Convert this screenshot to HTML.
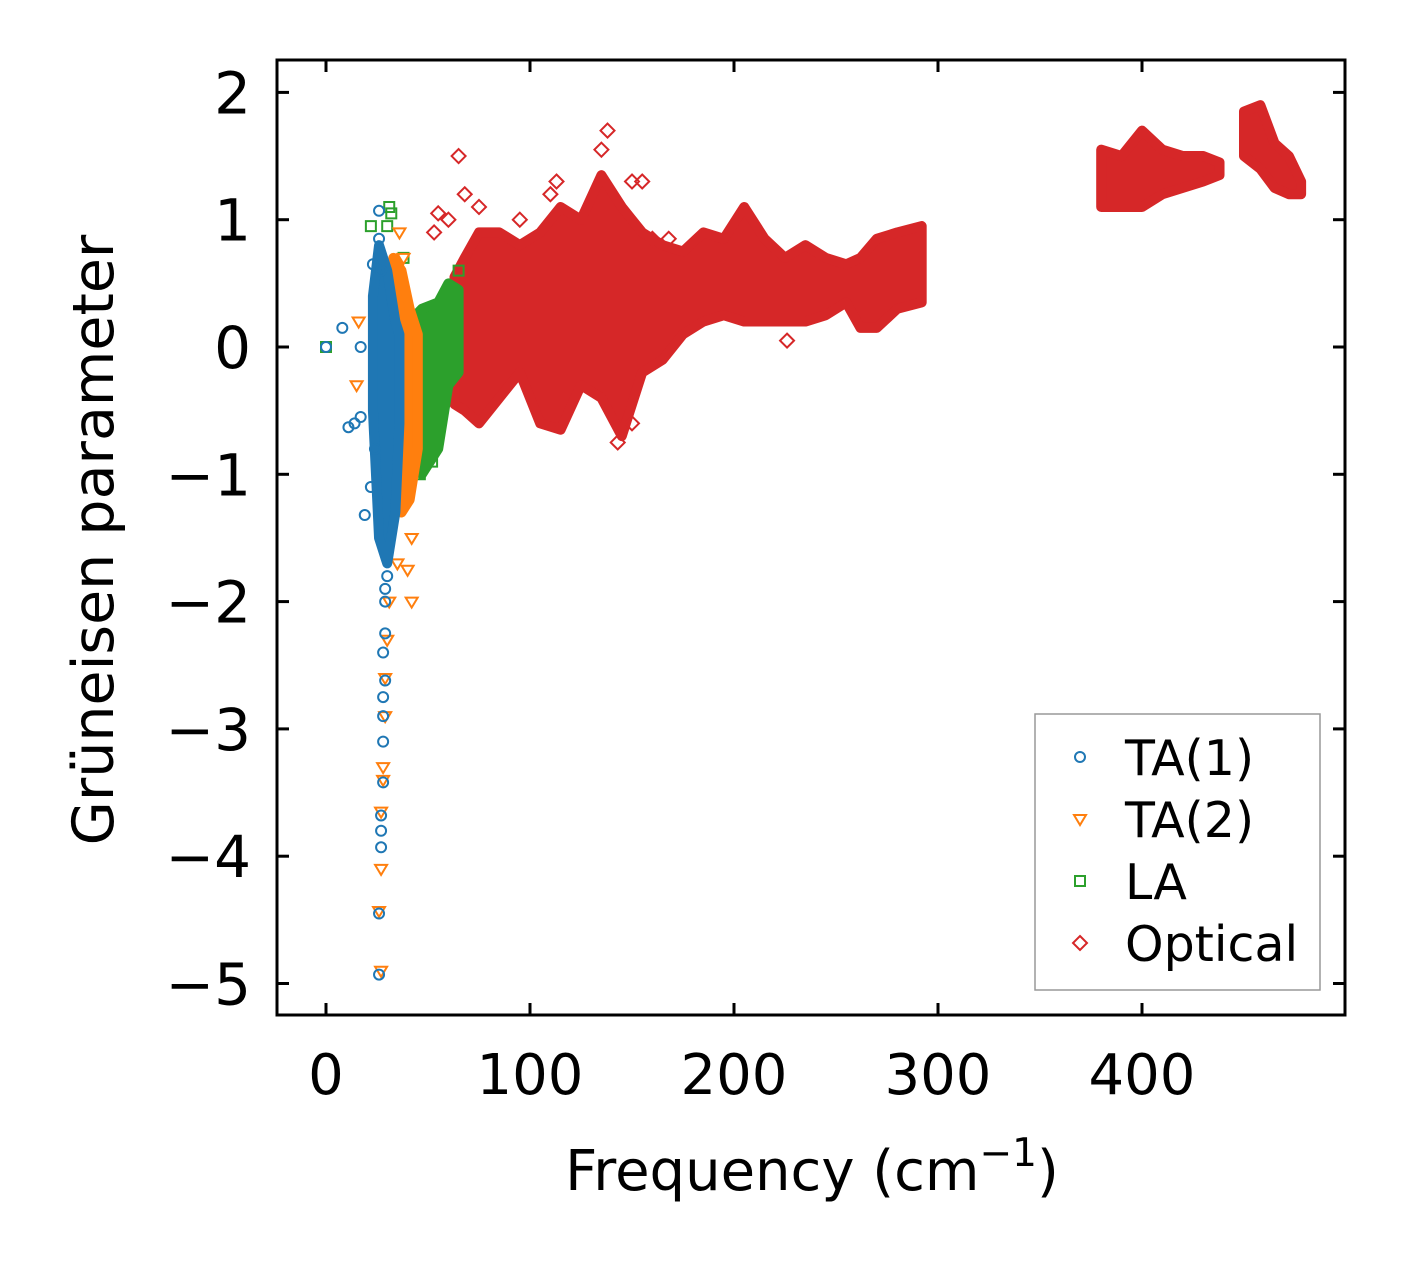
<!DOCTYPE html>
<html><head><meta charset="utf-8"><style>
html,body{margin:0;padding:0;background:#fff;}
svg{display:block;font-family:"DejaVu Sans","Liberation Sans",sans-serif;}
</style></head><body>
<svg id="chart" width="1406" height="1264" viewBox="0 0 1406 1264" xmlns="http://www.w3.org/2000/svg">
<rect width="1406" height="1264" fill="#fff"/>
<g id="plot"></g>
<rect x="277" y="60" width="1068" height="955" fill="none" stroke="#000" stroke-width="3"/>
<g id="ticks"></g>
<text x="812" y="1190" font-size="56" text-anchor="middle">Frequency (cm<tspan dy="-24" font-size="39">−1</tspan><tspan dy="24">)</tspan></text>
<text transform="translate(113,540) rotate(-90)" font-size="57" text-anchor="middle">Grüneisen parameter</text>
<g>
<rect x="1035" y="714" width="285" height="276" fill="#fff" stroke="#999" stroke-width="1.5"/>
<circle cx="1080" cy="757" r="5" fill="none" stroke="#1f77b4" stroke-width="2"/>
<text x="1125" y="775" font-size="49">TA(1)</text>
<path d="M1074,815 L1086,815 L1080,825 Z" fill="none" stroke="#ff7f0e" stroke-width="2"/>
<text x="1125" y="837" font-size="49">TA(2)</text>
<rect x="1075" y="876" width="10" height="10" fill="none" stroke="#2ca02c" stroke-width="2"/>
<text x="1125" y="899" font-size="49">LA</text>
<path d="M1080,936 L1087,943 L1080,950 L1073,943 Z" fill="none" stroke="#d62728" stroke-width="2"/>
<text x="1125" y="961" font-size="49">Optical</text>
</g>
</svg>
<script>
// axis data
const xTicks = [0, 100, 200, 300, 400];
const yTicks = [-5, -4, -3, -2, -1, 0, 1, 2];
const yTickLabels = ["−5", "−4", "−3", "−2", "−1", "0", "1", "2"];
// dense bands: [freq, gammaMin, gammaMax]
const opticalBand1 = [[63,-0.45,0.55],[68,-0.5,0.7],[75,-0.6,0.9],[85,-0.4,0.9],[95,-0.2,0.8],[105,-0.6,0.9],[115,-0.65,1.1],[125,-0.3,1.0],[135,-0.4,1.35],[145,-0.7,1.1],[155,-0.2,0.9],[165,-0.1,0.8],[175,0.1,0.75],[185,0.2,0.9],[195,0.25,0.85],[205,0.2,1.1],[215,0.2,0.85],[225,0.2,0.7],[235,0.2,0.8],[245,0.25,0.7],[255,0.35,0.65],[262,0.15,0.7],[270,0.15,0.85],[280,0.3,0.9],[292,0.35,0.95]];
const opticalBand2 = [[380,1.1,1.55],[390,1.1,1.5],[400,1.1,1.7],[410,1.2,1.55],[420,1.25,1.5],[430,1.3,1.5],[438,1.35,1.45]];
const opticalBand3 = [[450,1.5,1.85],[458,1.4,1.9],[465,1.25,1.6],[472,1.2,1.5],[478,1.2,1.3]];
const laBand = [[41,-0.5,0.2],[47,-1.0,0.3],[55,-0.8,0.35],[60,-0.3,0.5],[65,-0.2,0.45]];
const ta2Band = [[33,-1.2,0.7],[37,-1.3,0.6],[41,-1.2,0.3],[45,-0.8,0.1]];
const ta1Band = [[23,-0.5,0.4],[26,-1.5,0.8],[30,-1.7,0.6],[34,-1.3,0.2],[36,-0.6,0.1]];
// sparse points: [freq, gamma]
const ta1Points = [[0,0],[8,0.15],[11,-0.63],[14,-0.6],[17,-0.55],[17,0],[19,-1.32],[22,-1.1],[23,0.65],[26,1.07],[26,-4.93],[26,-4.45],[27,-3.93],[27,-3.68],[27,-3.8],[28,-3.42],[28,-3.1],[28,-2.9],[28,-2.75],[29,-2.62],[28,-2.4],[29,-2.25],[29,-2.0],[29,-1.9],[30,-1.8],[24,-0.8],[26,0.85],[27,0.6]];
const ta2Points = [[16,0.2],[15,-0.3],[27,-4.9],[26,-4.43],[27,-4.1],[27,-3.65],[28,-3.4],[28,-3.3],[29,-2.9],[29,-2.6],[30,-2.3],[31,-2.0],[35,-1.7],[40,-1.75],[42,-2.0],[42,-1.5],[36,0.9],[38,0.7]];
const laPoints = [[0,0],[22,0.95],[31,1.1],[32,1.05],[38,0.7],[46,-1.0],[52,-0.9],[65,0.6],[30,0.95]];
const opticalPoints = [[65,1.5],[68,1.2],[75,1.1],[53,0.9],[55,1.05],[60,1.0],[95,1.0],[110,1.2],[113,1.3],[138,1.7],[135,1.55],[150,1.3],[155,1.3],[160,0.85],[168,0.85],[226,0.05],[143,-0.75],[150,-0.6]];

const X = f => 326 + f * 2.04;
const Y = g => 347 - g * 127.3;
const NS = "http://www.w3.org/2000/svg";
const plot = document.getElementById("plot");
const ticks = document.getElementById("ticks");

function band(arr, color, name) {
  const top = arr.map(d => X(d[0]) + "," + Y(d[2]));
  const bot = arr.slice().reverse().map(d => X(d[0]) + "," + Y(d[1]));
  const p = document.createElementNS(NS, "polygon");
  p.setAttribute("points", top.concat(bot).join(" "));
  p.setAttribute("fill", color);
  p.setAttribute("stroke", color);
  p.setAttribute("stroke-width", "10");
  p.setAttribute("stroke-linejoin", "round");
  
  
  plot.appendChild(p);
}
function points(arr, color, shape, name) {
  arr.forEach(d => {
    const x = X(d[0]), y = Y(d[1]);
    let el;
    if (shape === "circle") {
      el = document.createElementNS(NS, "circle");
      el.setAttribute("cx", x); el.setAttribute("cy", y); el.setAttribute("r", 5);
    } else {
      el = document.createElementNS(NS, "path");
      let dd;
      if (shape === "tri") dd = `M${x-6},${y-4} L${x+6},${y-4} L${x},${y+6} Z`;
      else if (shape === "sq") dd = `M${x-5},${y-5} h10 v10 h-10 Z`;
      else dd = `M${x},${y-7} L${x+7},${y} L${x},${y+7} L${x-7},${y} Z`;
      el.setAttribute("d", dd);
    }
    el.setAttribute("fill", "none");
    el.setAttribute("stroke", color);
    el.setAttribute("stroke-width", "2");
    
    
    plot.appendChild(el);
  });
}
band(opticalBand1, "#d62728", "optical-band");
band(opticalBand2, "#d62728", "optical-band");
band(opticalBand3, "#d62728", "optical-band");
points(opticalPoints, "#d62728", "dia", "optical-point");
band(laBand, "#2ca02c", "la-band");
points(laPoints, "#2ca02c", "sq", "la-point");
band(ta2Band, "#ff7f0e", "ta2-band");
points(ta2Points, "#ff7f0e", "tri", "ta2-point");
band(ta1Band, "#1f77b4", "ta1-band");
points(ta1Points, "#1f77b4", "circle", "ta1-point");

function line(x1,y1,x2,y2){
  const l = document.createElementNS(NS, "line");
  l.setAttribute("x1",x1);l.setAttribute("y1",y1);l.setAttribute("x2",x2);l.setAttribute("y2",y2);
  l.setAttribute("stroke","#000");l.setAttribute("stroke-width","3");
  
  
  ticks.appendChild(l);
}
xTicks.forEach(v => {
  const x = X(v);
  line(x,1015,x,1003); line(x,60,x,72);
  const t = document.createElementNS(NS, "text");
  t.setAttribute("x", x); t.setAttribute("y", 1094);
  t.setAttribute("font-size", "56"); t.setAttribute("text-anchor", "middle");
  t.textContent = v;
  
  
  ticks.appendChild(t);
});
yTicks.forEach((v, i) => {
  const y = Y(v);
  line(277,y,289,y); line(1345,y,1333,y);
  const t = document.createElementNS(NS, "text");
  t.setAttribute("x", 251); t.setAttribute("y", y + 21);
  t.setAttribute("font-size", "58"); t.setAttribute("text-anchor", "end");
  t.textContent = yTickLabels[i];
  
  
  ticks.appendChild(t);
});
</script>
</body></html>
